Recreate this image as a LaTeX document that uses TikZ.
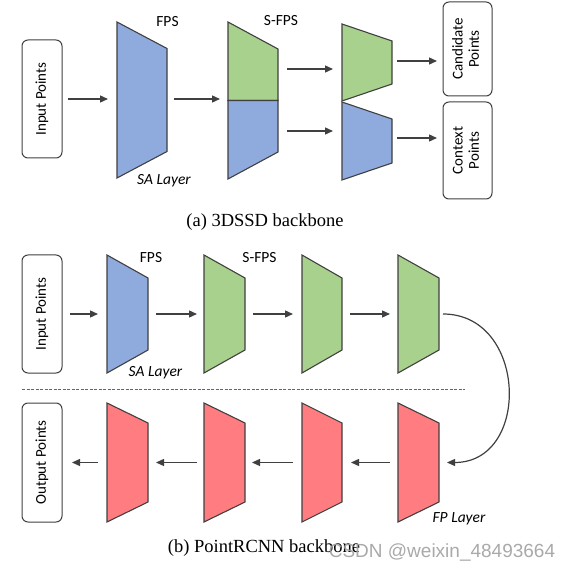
\documentclass[tikz,border=0pt]{standalone}
\usepackage{fontspec}
\setmainfont{Liberation Serif}
\newfontfamily\labfont{Carlito}
\newfontfamily\wmfont{Liberation Sans}
\usetikzlibrary{arrows.meta,calc}
\definecolor{tblue}{HTML}{8FAADC}
\definecolor{tgreen}{HTML}{A9D18E}
\definecolor{tred}{HTML}{FF7C80}
\definecolor{lgray}{HTML}{404040}
\definecolor{wmgray}{HTML}{A0A0A0}
\tikzset{
  trapbox/.style={rectangle, inner sep=0pt, outer sep=0pt, draw=none},
  trapline/.style={draw=lgray, line width=1.1pt, line join=miter},
  ptbox/.style={rectangle, draw=lgray, line width=1pt, rounded corners=6pt, fill=white,
    inner sep=0pt, outer sep=0pt, font=\labfont\fontsize{15}{18}\selectfont},
  arr/.style={draw=lgray, line width=1.3pt, -{Triangle[length=8pt,width=7pt]}},
  lab/.style={font=\labfont\fontsize{15.5}{18}\selectfont, inner sep=0pt},
  ilab/.style={font=\labfont\itshape\fontsize{15.5}{18}\selectfont, inner sep=0pt},
  captext/.style={font=\fontsize{18.5}{22}\selectfont, inner sep=0pt},
  sepline/.style={draw=lgray!80, line width=0.8pt, dash pattern=on 3pt off 1.5pt},
}
% name, cx, cy, width, left height, right height, fill
\newcommand\trapz[7]{%
  \node[trapbox, minimum width=#4pt, minimum height=#5pt] (#1) at (#2,#3) {};
  \pgfmathsetmacro\tk{(#5-#6)/2}%
  \draw[trapline, fill=#7] (#1.north west) -- ([yshift=-\tk pt]#1.north east)
    -- ([yshift=\tk pt]#1.south east) -- (#1.south west) -- cycle;
}
\begin{document}
\begin{tikzpicture}[x=1pt,y=-1pt]
\useasboundingbox (0,0) rectangle (573,572);

% ---------------- (a) 3DSSD backbone ----------------
\node[ptbox, minimum width=40pt, minimum height=118pt] (in1) at (42,99) {\rotatebox{90}{Input Points}};
\trapz{t1}{142}{100}{50}{156}{103}{tblue}
% split S-FPS trapezoid
\node[trapbox, minimum width=50pt, minimum height=157pt] (sf) at (253,100.5) {};
\draw[trapline, fill=tgreen] (sf.north west) -- ([yshift=-27pt]sf.north east) -- (sf.east) -- (sf.west) -- cycle;
\draw[trapline, fill=tblue] (sf.west) -- (sf.east) -- ([yshift=27pt]sf.south east) -- (sf.south west) -- cycle;
\trapz{ga}{367}{62.5}{50}{77}{43}{tgreen}
\trapz{ba}{367}{141}{50}{78}{44}{tblue}
\node[ptbox, minimum width=49pt, minimum height=94pt] (cand) at (467.5,49)
  {\rotatebox{90}{\def\arraystretch{0.9}\begin{tabular}{@{}c@{}}Candidate\\Points\end{tabular}}};
\node[ptbox, minimum width=49pt, minimum height=97pt] (ctx) at (467.5,150.5)
  {\rotatebox{90}{\def\arraystretch{0.9}\begin{tabular}{@{}c@{}}Context\\Points\end{tabular}}};

\node[lab] (fpsa) at (167.5,22) {FPS};
\node[lab] (sfpsa) at (281,21) {S-FPS};
\node[ilab] (saa) at (164,181) {SA Layer};

\draw[arr] ($(in1.east)+(6,0)$) -- ($(in1.east -| t1.west)+(-9,0)$);
\draw[arr] ($(t1.east)+(7,-1)$) -- ($(t1.east -| sf.west)+(-8,-1)$);
\draw[arr] ($(sf.east)+(9,-31.5)$) -- ($(sf.east -| ga.west)+(-9,-31.5)$);
\draw[arr] ($(sf.east)+(9,30.5)$) -- ($(sf.east -| ba.west)+(-9,30.5)$);
\draw[arr] ($(ga.east)+(5,-1.5)$) -- ($(ga.east -| cand.west)+(-6,-1.5)$);
\draw[arr] ($(ba.east)+(5,-3)$) -- ($(ba.east -| ctx.west)+(-6,-3)$);

\node[captext] (capa) at (265,222) {(a) 3DSSD backbone};

% ---------------- (b) PointRCNN backbone ----------------
\node[ptbox, minimum width=40pt, minimum height=118pt] (in2) at (42,314) {\rotatebox{90}{Input Points}};
\trapz{f1}{127.5}{314}{41}{118}{72}{tblue}
\trapz{g1}{224.5}{314}{41}{118}{72}{tgreen}
\trapz{gb}{322}{314}{40}{118}{72}{tgreen}
\trapz{g3}{418.5}{314}{41}{118}{72}{tgreen}

\node[lab] (fpsb) at (151,258) {FPS};
\node[lab] (sfpsb) at (259.5,258) {S-FPS};
\node[ilab] (sab) at (155.5,373) {SA Layer};

\draw[arr] ($(in2.east)+(8,0)$) -- ($(in2.east -| f1.west)+(-9,0)$);
\draw[arr] ($(f1.east)+(8,0)$) -- ($(f1.east -| g1.west)+(-7,0)$);
\draw[arr] ($(g1.east)+(8,0)$) -- ($(g1.east -| gb.west)+(-9,0)$);
\draw[arr] ($(gb.east)+(8,0)$) -- ($(gb.east -| g3.west)+(-8,0)$);

\draw[sepline] (22,389) -- (465,389);

\node[ptbox, minimum width=40pt, minimum height=119pt] (out) at (42,462.5) {\rotatebox{90}{Output Points}};
\trapz{r1}{127.5}{462.5}{41}{119}{79}{tred}
\trapz{r2}{224.5}{462.5}{41}{119}{79}{tred}
\trapz{r3}{322}{462.5}{40}{119}{79}{tred}
\trapz{r4}{418.5}{462.5}{41}{119}{79}{tred}

\draw[arr, line width=1.2pt] ($(g3.east)+(4,0)$) to[out=0,in=0,looseness=1.45] ($(r4.east)+(8,0)$);

\draw[arr] ($(r4.west)+(-8,0)$) -- ($(r4.west -| r3.east)+(9,0)$);
\draw[arr] ($(r3.west)+(-9,0)$) -- ($(r3.west -| r2.east)+(7,0)$);
\draw[arr] ($(r2.west)+(-7,0)$) -- ($(r2.west -| r1.east)+(8,0)$);
\draw[arr] ($(r1.west)+(-9,0)$) -- ($(r1.west -| out.east)+(10,0)$);

\node[ilab] (fpl) at (459,519) {FP Layer};
\node[captext] (capb) at (264,548) {(b) PointRCNN backbone};
\node[font=\wmfont\fontsize{19}{22}\selectfont, text=wmgray, opacity=0.9, inner sep=0pt] (wm) at (442,553) {CSDN @weixin\_48493664};
\end{tikzpicture}
\end{document}
